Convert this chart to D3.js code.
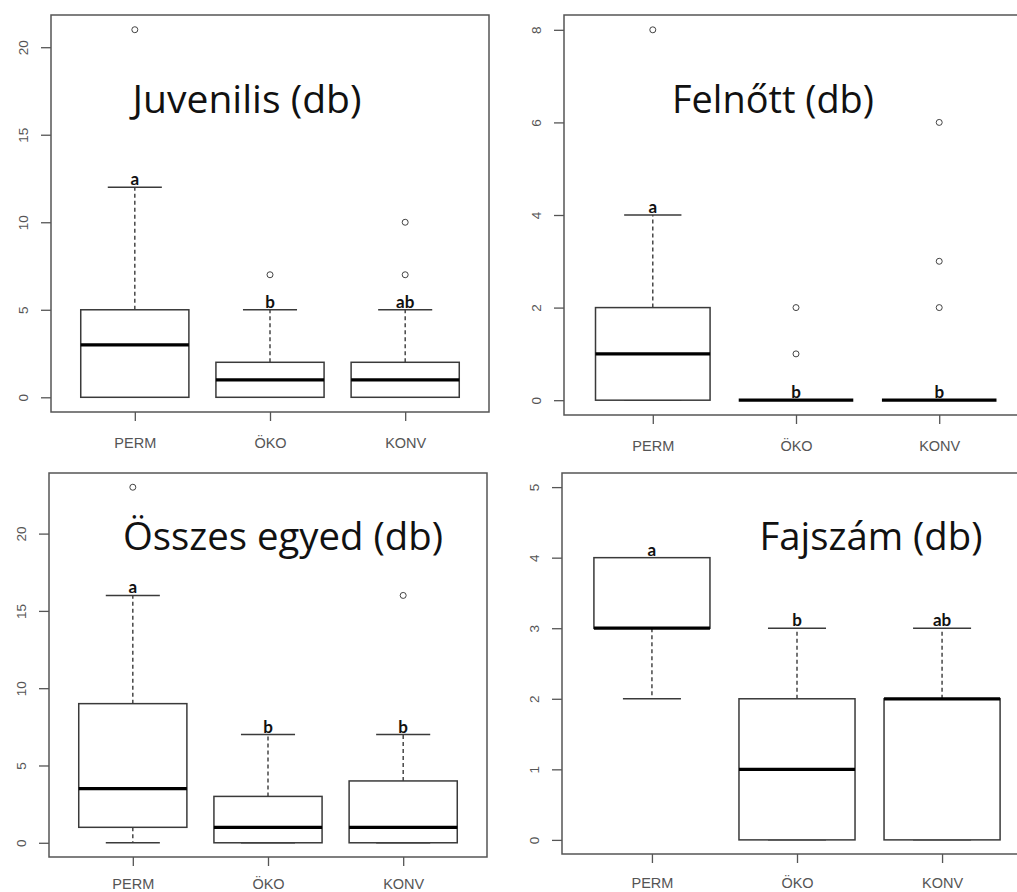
<!DOCTYPE html>
<html><head><meta charset="utf-8">
<script src="https://cdn.jsdelivr.net/npm/d3@7"></script>
<style>
html,body{margin:0;padding:0;background:#fff;}
svg{display:block;}
</style></head>
<body>
<svg id="chart" width="1017" height="892"></svg>
<script>
// ---------- DATA ----------
const categories = ["PERM", "ÖKO", "KONV"];

// stats per group: [lower whisker, Q1, median, Q3, upper whisker]
const juvStats = [[0, 0, 3, 5, 12], [0, 0, 1, 2, 5], [0, 0, 1, 2, 5]];
const juvOutliers = [[21], [7], [7, 10]];
const juvLetters = ["a", "b", "ab"];
const juvTicks = [0, 5, 10, 15, 20];

const felStats = [[0, 0, 1, 2, 4], [0, 0, 0, 0, 0], [0, 0, 0, 0, 0]];
const felOutliers = [[8], [1, 2], [2, 3, 6]];
const felLetters = ["a", "b", "b"];
const felTicks = [0, 2, 4, 6, 8];

const osszStats = [[0, 1, 3.5, 9, 16], [0, 0, 1, 3, 7], [0, 0, 1, 4, 7]];
const osszOutliers = [[23], [], [16]];
const osszLetters = ["a", "b", "b"];
const osszTicks = [0, 5, 10, 15, 20];

const fajStats = [[2, 3, 3, 4, 4], [0, 0, 1, 2, 3], [0, 0, 2, 2, 3]];
const fajOutliers = [[], [], []];
const fajLetters = ["a", "b", "ab"];
const fajTicks = [0, 1, 2, 3, 4, 5];
const fajLimits = [0, 5];

const titles = ["Juvenilis (db)", "Felnőtt (db)", "Összes egyed (db)", "Fajszám (db)"];

// ---------- LAYOUT ----------
const panels = [
  {title: titles[0], stats: juvStats, outliers: juvOutliers, letters: juvLetters, ticks: juvTicks,
   x0: 51, x1: 489, y0: 15, y1: 412, tx: 247, ty: 113, tw: 229, lab: 31},
  {title: titles[1], stats: felStats, outliers: felOutliers, letters: felLetters, ticks: felTicks,
   x0: 564, x1: 1028, y0: 15, y1: 415, tx: 773, ty: 113, tw: 202, lab: 31},
  {title: titles[2], stats: osszStats, outliers: osszOutliers, letters: osszLetters, ticks: osszTicks,
   x0: 49, x1: 487, y0: 473, y1: 857, tx: 283, ty: 550, tw: 320, lab: 27},
  {title: titles[3], stats: fajStats, outliers: fajOutliers, letters: fajLetters, ticks: fajTicks, limits: fajLimits,
   x0: 562, x1: 1032, y0: 473, y1: 854, tx: 871, ty: 550, tw: 223, lab: 29}
];

const svg = d3.select("#chart");
const frameColor = "#555";
const lineColor = "#3a3a3a";
const tickFont = "Liberation Sans, Arial, sans-serif";

panels.forEach(p => {
  const g = svg.append("g");
  let lo, hi;
  if (p.limits) { [lo, hi] = p.limits; }
  else {
    const all = p.stats.flat().concat(p.outliers.flat());
    lo = d3.min(all); hi = d3.max(all);
  }
  const pad = (hi - lo) * 0.04;
  const y = d3.scaleLinear().domain([lo - pad, hi + pad]).range([p.y1, p.y0]);
  const x = d3.scaleLinear().domain([0.38, 3.62]).range([p.x0, p.x1]);
  const xc = i => x(i + 1);
  const bw = x(1.4) - x(1);
  const sw = bw / 2;

  // y axis
  const yAxis = d3.axisLeft(y).tickValues(p.ticks).tickSize(10).tickPadding(0).tickFormat(d3.format("d"));
  const ya = g.append("g").attr("transform", `translate(${p.x0},0)`).call(yAxis);
  ya.select(".domain").remove();
  ya.selectAll(".tick line").attr("stroke", frameColor).attr("stroke-width", 1.3);
  ya.selectAll(".tick text").remove();
  ya.selectAll(".tick").append("text")
    .attr("transform", "translate(-28,0) rotate(-90)")
    .attr("text-anchor", "middle").attr("dy", "0.35em")
    .attr("fill", "#555").attr("font-family", tickFont).attr("font-size", 13.5)
    .text(d => d);

  // x axis
  const xs = d3.scaleOrdinal().domain(categories).range(categories.map((c, i) => xc(i)));
  const xAxis = d3.axisBottom(xs).tickSize(9).tickPadding(0);
  const xa = g.append("g").attr("transform", `translate(0,${p.y1})`).call(xAxis);
  xa.select(".domain").remove();
  xa.selectAll(".tick line").attr("stroke", frameColor).attr("stroke-width", 1.3);
  xa.selectAll(".tick text").attr("y", p.lab).attr("dy", "0.35em")
    .attr("fill", "#555").attr("font-family", tickFont).attr("font-size", 14.5);

  const cid = "clip" + p.x0 + "_" + p.y0;
  svg.append("clipPath").attr("id", cid).append("rect")
    .attr("x", p.x0).attr("y", p.y0).attr("width", p.x1 - p.x0).attr("height", p.y1 - p.y0);
  const pg = g.append("g").attr("clip-path", `url(#${cid})`);

  p.stats.forEach((s, i) => {
    const [wl, q1, med, q3, wh] = s;
    const cx = xc(i);
    if (wh > q3) pg.append("line").attr("x1", cx).attr("x2", cx).attr("y1", y(q3)).attr("y2", y(wh))
      .attr("stroke", lineColor).attr("stroke-width", 1.4).attr("stroke-dasharray", "4,3");
    if (wl < q1) pg.append("line").attr("x1", cx).attr("x2", cx).attr("y1", y(q1)).attr("y2", y(wl))
      .attr("stroke", lineColor).attr("stroke-width", 1.4).attr("stroke-dasharray", "4,3");
    [wl, wh].forEach(v => pg.append("line").attr("x1", cx - sw).attr("x2", cx + sw).attr("y1", y(v)).attr("y2", y(v))
      .attr("stroke", lineColor).attr("stroke-width", 1.4));
    pg.append("rect").attr("x", cx - bw).attr("width", 2 * bw)
      .attr("y", y(q3)).attr("height", y(q1) - y(q3))
      .attr("fill", "#fff").attr("stroke", lineColor).attr("stroke-width", 1.5);
    pg.append("line").attr("x1", cx - bw).attr("x2", cx + bw).attr("y1", y(med)).attr("y2", y(med))
      .attr("stroke", "#000").attr("stroke-width", 3.2);
    p.outliers[i].forEach(o => pg.append("circle").attr("cx", cx).attr("cy", y(o)).attr("r", 3)
      .attr("fill", "none").attr("stroke", "#444").attr("stroke-width", 1));
    g.append("text").attr("x", cx).attr("y", y(wh) - 2).attr("text-anchor", "middle")
      .attr("font-family", "Lato, sans-serif").attr("font-weight", "bold").attr("font-size", 17)
      .attr("fill", "#111").text(p.letters[i]);
  });

  g.append("rect").attr("x", p.x0).attr("y", p.y0).attr("width", p.x1 - p.x0).attr("height", p.y1 - p.y0)
    .attr("fill", "none").attr("stroke", frameColor).attr("stroke-width", 1.5);

  // title, sized so its width matches the reference
  const t = g.append("text").attr("x", p.tx).attr("y", p.ty).attr("text-anchor", "middle")
    .attr("font-family", "Open Sans, sans-serif").attr("font-size", 35).attr("fill", "#111").text(p.title);
  const w = t.node().getComputedTextLength();
  if (w > 0) t.attr("font-size", Math.max(30, Math.min(40, 35 * p.tw / w)));
});
</script>
</body></html>
